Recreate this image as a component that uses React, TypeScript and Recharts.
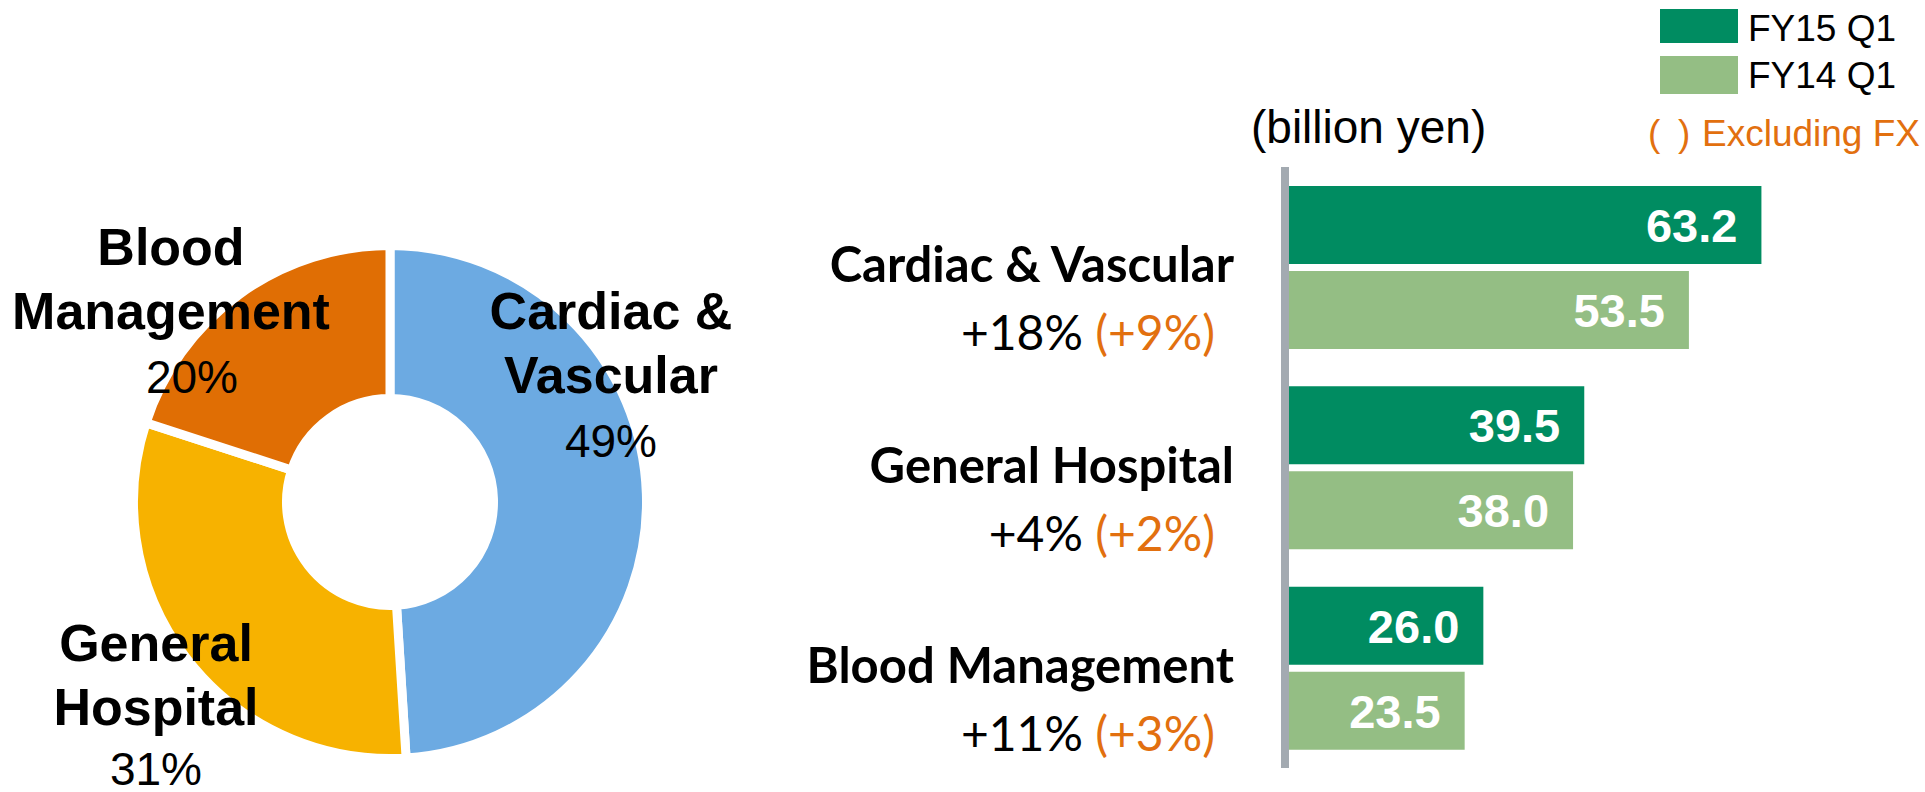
import React from 'react';
import { PieChart, Pie, Cell, BarChart, Bar, XAxis, YAxis, Legend, LabelList } from 'recharts';

// ---------- data ----------
const segments = ['Cardiac & Vascular', 'General Hospital', 'Blood Management'];
const shareLines = [['Cardiac &', 'Vascular'], ['General', 'Hospital'], ['Blood', 'Management']];
const sharePct = [49, 31, 20];
const seriesNames = ['FY15 Q1', 'FY14 Q1'];
const fy15 = [63.2, 39.5, 26.0];
const fy14 = [53.5, 38.0, 23.5];
const growth = ['+18%', '+4%', '+11%'];
const growthExFx = ['(+9%)', '(+2%)', '(+3%)'];
const unitLabel = '(billion yen)';
const fxNote = 'Excluding FX';

// ---------- styles ----------
const ARIAL = "'Liberation Sans', Arial, sans-serif";
const LATO = "Lato, 'Liberation Sans', sans-serif";
const PIE_COLORS = ['#6CAAE2', '#F7B200', '#E06E04'];
const C_FY15 = '#008C61';
const C_FY14 = '#94BE84';
const C_AXIS = '#A3AAB1';
const C_ORANGE = '#E2700F';

// label anchor offsets from the pie centre (first baseline), per slice
const PIE_LABEL_POS = [
  { dx: 221, dy: -173, pctDx: 0, pctDy: 0 },
  { dx: -234, dy: 159, pctDx: 0, pctDy: -4 },
  { dx: -219, dy: -237, pctDx: 21, pctDy: 0 },
];
const LINE_STEP = 64;

const pieData = segments.map((name, i) => ({ name, value: sharePct[i] }));
const barData = segments.map((name, i) => ({ name, fy15: fy15[i], fy14: fy14[i] }));

const renderPieLabel = (p: any) => {
  const i = p.index;
  const pos = PIE_LABEL_POS[i];
  const x = p.cx + pos.dx;
  const y = p.cy + pos.dy;
  const lines = shareLines[i];
  return (
    <g key={`pl-${i}`}>
      {lines.map((t, k) => (
        <text key={k} x={x} y={y + k * LINE_STEP} textAnchor="middle" fontFamily={ARIAL}
          fontWeight={700} fontSize={52} fill="#000">{t}</text>
      ))}
      <text x={x + pos.pctDx} y={y + lines.length * LINE_STEP + pos.pctDy} textAnchor="middle" fontFamily={ARIAL}
        fontSize={46} fill="#000">{`${sharePct[i]}%`}</text>
    </g>
  );
};

const CatTick = (props: any) => {
  const { x, y, payload } = props;
  const i = segments.indexOf(payload.value);
  return (
    <g>
      <text x={x - 51} y={y + 15} textAnchor="end" fontFamily={LATO} fontWeight={700}
        fontSize={49} fill="#000">{payload.value}</text>
      <text x={x - 70} y={y + 83} textAnchor="end" fontFamily={LATO} fontSize={48}>
        <tspan fill="#000">{growth[i]} </tspan>
        <tspan fill={C_ORANGE}>{growthExFx[i]}</tspan>
      </text>
    </g>
  );
};

const ValueLabel = (props: any) => {
  const { x, y, width, height, value } = props;
  return (
    <text x={x + width - 24} y={y + height / 2 + 17} textAnchor="end" fontFamily={ARIAL}
      fontWeight={700} fontSize={47} fill="#fff">{Number(value).toFixed(1)}</text>
  );
};

const BAR_LEFT = 700;
const LegendContent = (props: any) => {
  const items = [...(props.payload || [])].sort(
    (a: any, b: any) => seriesNames.indexOf(a.value) - seriesNames.indexOf(b.value)
  );
  const sw = [
    { x: 960, y: 9, h: 34, ty: 41 },
    { x: 960, y: 56, h: 38, ty: 88 },
  ];
  return (
    <svg width={1225} height={160} style={{ overflow: 'visible', display: 'block' }}>
      {items.map((it: any, k: number) => (
        <g key={k}>
          <rect x={sw[k].x} y={sw[k].y} width={78} height={sw[k].h} fill={it.color} />
          <text x={sw[k].x + 88} y={sw[k].ty} fontFamily={ARIAL} fontSize={37} fill="#000">{it.value}</text>
        </g>
      ))}
      <text x={551} y={143} fontFamily={ARIAL} fontSize={46} fill="#000">{unitLabel}</text>
      <text y={146} fontFamily={ARIAL} fontSize={37} fill={C_ORANGE}>
        <tspan x={948}>(</tspan>
        <tspan x={978}>)</tspan>
        <tspan x={1002}>{fxNote}</tspan>
      </text>
    </svg>
  );
};

export default function App() {
  return (
    <div style={{ position: 'absolute', left: 0, top: 0, width: 1925, height: 792, overflow: 'hidden', background: '#fff' }}>
      <div style={{ position: 'absolute', left: 0, top: 0 }}>
        <PieChart width={800} height={792} margin={{ top: 0, right: 0, bottom: 0, left: 0 }}>
          <Pie data={pieData} dataKey="value" nameKey="name" cx={390} cy={502}
            innerRadius={103.5} outerRadius={256.5} startAngle={90} endAngle={-270}
            stroke="#fff" strokeWidth={9} label={renderPieLabel} labelLine={false}
            isAnimationActive={false}>
            {pieData.map((d, i) => <Cell key={d.name} fill={PIE_COLORS[i]} />)}
          </Pie>
        </PieChart>
      </div>
      <div style={{ position: 'absolute', left: BAR_LEFT, top: 0 }}>
        <BarChart width={1225} height={792} data={barData} layout="vertical"
          margin={{ top: 167, right: 38, bottom: 24, left: 0 }} barGap={7} barCategoryGap={0}>
          <XAxis type="number" domain={[0, 80]} hide padding={{ left: 4, right: 0 }} />
          <YAxis type="category" dataKey="name" width={585} interval={0}
            axisLine={{ stroke: C_AXIS, strokeWidth: 8 }} tickLine={false} tickSize={0} tickMargin={0}
            tick={<CatTick />} />
          <Bar dataKey="fy15" name={seriesNames[0]} fill={C_FY15} barSize={78} isAnimationActive={false}>
            <LabelList dataKey="fy15" content={<ValueLabel />} />
          </Bar>
          <Bar dataKey="fy14" name={seriesNames[1]} fill={C_FY14} barSize={78} isAnimationActive={false}>
            <LabelList dataKey="fy14" content={<ValueLabel />} />
          </Bar>
          <Legend layout="vertical" align="center" verticalAlign="middle" content={<LegendContent />}
            wrapperStyle={{ left: 0, top: 0, width: 1225, height: 160 }} />
        </BarChart>
      </div>
    </div>
  );
}
